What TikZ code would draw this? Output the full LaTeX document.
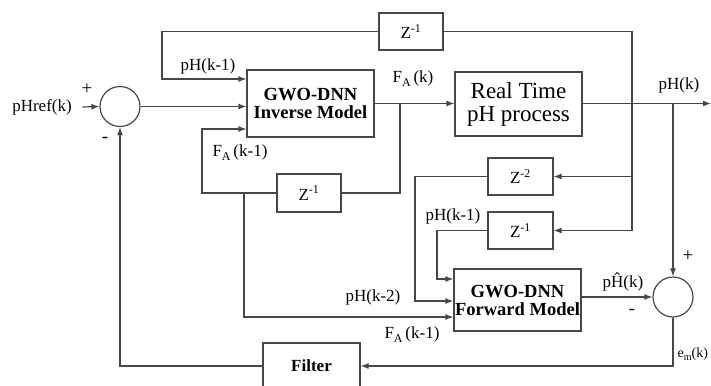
\documentclass[tikz,border=0pt]{standalone}
\usepackage{fontspec}
\setmainfont{Liberation Serif}
\usetikzlibrary{arrows.meta}

\begin{document}
\begin{tikzpicture}[
    x=1pt, y=-1pt,
    line width=1.2pt, draw=black!72,
    blk/.style={draw, rectangle, align=center, inner sep=0pt},
    bigblk/.style={blk, minimum width=127pt, font=\fontsize{18.5}{20}\selectfont\bfseries},
    delay/.style={blk, minimum width=64pt, minimum height=37pt, font=\fontsize{17}{19}\selectfont},
    sumj/.style={draw, circle, minimum size=40pt, inner sep=0pt},
    lbl/.style={font=\fontsize{17}{19}\selectfont, inner sep=0pt},
    sgn/.style={font=\fontsize{19}{21}\selectfont, inner sep=0pt},
    arr/.style={-{Latex[length=8pt,width=6pt]}}
]
\useasboundingbox (0,0) rectangle (711,385);

\node[sumj] (sum1) at (120,106.5) {};
\node[bigblk, minimum height=67pt] (inv) at (310.5,103.5) {GWO-DNN\\[-2pt]Inverse Model};
\node[blk, minimum width=127pt, minimum height=64pt, font=\fontsize{23}{25}\selectfont] (proc) at (518.5,104)
    {Real Time\\[-2pt]pH process};
\node[delay] (zt) at (411,31.5) {Z\textsuperscript{-1}};
\node[delay, minimum height=38pt] (zm) at (309,193) {Z\textsuperscript{-1}};
\node[delay, minimum width=65pt] (z2) at (520.5,176.5) {Z\textsuperscript{-2}};
\node[delay, minimum width=65pt] (z1) at (520.5,230.5) {Z\textsuperscript{-1}};
\node[bigblk, minimum height=62pt] (fwd) at (517.5,300) {GWO-DNN\\[-2pt]Forward Model};
\node[sumj] (sum2) at (673,297) {};
\node[blk, minimum width=97pt, minimum height=46pt, font=\fontsize{17}{19}\selectfont\bfseries] (filt) at (311.5,366) {Filter};

\node[lbl] (ref) at (42,107) {pHref(k)};
\coordinate (tapA) at (632,103.5);
\coordinate (tapB) at (673,103.5);
\coordinate (fA) at (400,103.5);
\coordinate (out) at (711,103.5);
\coordinate (c1) at (162,79);
\coordinate (c2) at (202,129);
\coordinate (c3) at (244,193);
\coordinate (c4) at (415,301);
\coordinate (c5) at (437,279);

% inverse model loop
\draw[arr] (ref.east) ++(10,0) -- (sum1.west);
\draw[arr] (sum1.east) -- (sum1.east -| inv.west);
\draw[arr] (inv.east) -- (inv.east -| proc.west);
\draw[arr] (proc.east |- out) -- (out);
\draw (tapA) |- (zt.east);
\draw[arr] (zt.west) -| (c1) -- (c1 -| inv.west);
\draw (fA) |- (zm.east);
\draw[arr] (zm.west) -| (c2) -- (c2 -| inv.west);

% forward model
\draw[arr] (tapA) |- (z2.east);
\draw[arr] (tapA) |- (z1.east);
\draw[arr] (z2.west) -| (c4) -- (c4 -| fwd.west);
\draw[arr] (z1.west) -| (c5) -- (c5 -| fwd.west);
\draw[arr] (c3) |- (fwd.west |- 0,317);
\draw[arr] (fwd.east |- sum2) -- (sum2.west);
\draw[arr] (tapB) -- (sum2.north);
\draw[arr] (sum2.south) |- (filt.east);
\draw[arr] (filt.west) -| (sum1.south);

% labels
\node[sgn] at (87,89) {+};
\node[sgn] at (105,140) {-};
\node[lbl] at (208,66) {pH(k-1)};
\node[lbl] at (240,153) {F\raisebox{-0.5ex}{\fontsize{12}{13}\selectfont A}\,(k-1)};
\node[lbl] at (413,79) {F\raisebox{-0.5ex}{\fontsize{12}{13}\selectfont A}\,(k)};
\node[lbl] at (679,85) {pH(k)};
\node[lbl] at (453,216) {pH(k-1)};
\node[lbl] at (373,297) {pH(k-2)};
\node[lbl] at (412,335) {F\raisebox{-0.5ex}{\fontsize{12}{13}\selectfont A}\,(k-1)};
\node[lbl] at (623,282) {p\^{H}(k)};
\node[sgn] at (632,312) {-};
\node[sgn] at (688,256) {+};
\node[lbl, anchor=west, font=\fontsize{14}{16}\selectfont] at (677,354) {e\raisebox{-0.5ex}{\fontsize{10}{11}\selectfont m}(k)};
\end{tikzpicture}
\end{document}
